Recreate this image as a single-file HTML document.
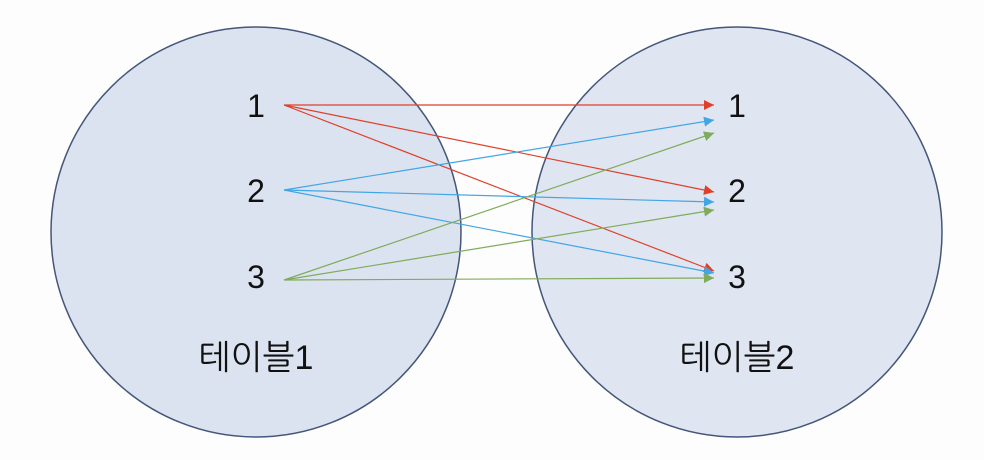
<!DOCTYPE html>
<html><head><meta charset="utf-8"><style>
html,body{margin:0;padding:0;background:#fdfdfd;}
svg{display:block;}
text{font-family:"Liberation Sans","NanumGothic","Noto Sans CJK KR",sans-serif;fill:#111;}
</style></head><body>
<svg width="984" height="460" viewBox="0 0 984 460">
<defs>
<marker id="mr" viewBox="0 0 10 10" refX="10" refY="5" markerWidth="10" markerHeight="10" markerUnits="userSpaceOnUse" orient="auto"><path d="M0,0L10,5L0,10z" fill="#e0402a"/></marker>
<marker id="mb" viewBox="0 0 10 10" refX="10" refY="5" markerWidth="10" markerHeight="10" markerUnits="userSpaceOnUse" orient="auto"><path d="M0,0L10,5L0,10z" fill="#41a6e6"/></marker>
<marker id="mg" viewBox="0 0 10 10" refX="10" refY="5" markerWidth="10" markerHeight="10" markerUnits="userSpaceOnUse" orient="auto"><path d="M0,0L10,5L0,10z" fill="#7fab5a"/></marker>
</defs>
<circle cx="256" cy="232" r="205" fill="#dce3f0" stroke="#44567a" stroke-width="1.5"/>
<circle cx="737" cy="232" r="205" fill="#dce3f0" fill-opacity="0.92" stroke="#44567a" stroke-width="1.5"/>
<g id="arrows"></g>
<text x="256" y="117" font-size="32" text-anchor="middle">1</text>
<text x="256" y="202" font-size="32" text-anchor="middle">2</text>
<text x="256" y="288" font-size="32" text-anchor="middle">3</text>
<text x="737" y="117" font-size="32" text-anchor="middle">1</text>
<text x="737" y="202" font-size="32" text-anchor="middle">2</text>
<text x="737" y="288" font-size="32" text-anchor="middle">3</text>
<text x="256" y="369" font-size="34" text-anchor="middle">테이블1</text>
<text x="737" y="369" font-size="34" text-anchor="middle">테이블2</text>
</svg>
<script>
const startY = [105, 190, 280];
const endY = [[105, 192, 271], [120, 202, 273], [133, 210, 278]];
const colors = ['#e0402a', '#41a6e6', '#7fab5a'];
const markers = ['mr', 'mb', 'mg'];
const g = document.getElementById('arrows');
for (let i = 0; i < 3; i++) {
  for (let j = 0; j < 3; j++) {
    const l = document.createElementNS('http://www.w3.org/2000/svg', 'line');
    l.setAttribute('x1', 284); l.setAttribute('y1', startY[i]);
    l.setAttribute('x2', 714); l.setAttribute('y2', endY[i][j]);
    l.setAttribute('stroke', colors[i]); l.setAttribute('stroke-width', 1.2);
    l.setAttribute('marker-end', 'url(#' + markers[i] + ')');
    
    
    g.appendChild(l);
  }
}
</script>
</body></html>
